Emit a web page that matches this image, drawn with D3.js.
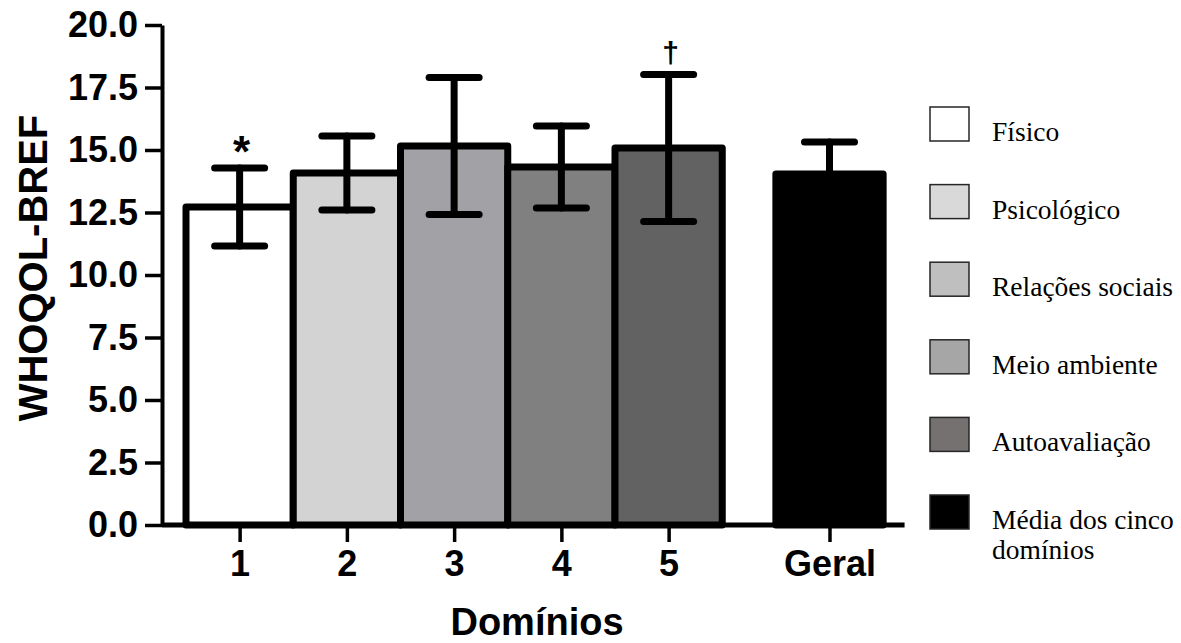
<!DOCTYPE html>
<html>
<head>
<meta charset="utf-8">
<script src="https://cdn.jsdelivr.net/npm/d3@7"></script>
<style>
  body { margin: 0; background: #fff; }
  svg { display: block; }
</style>
</head>
<body>
<svg id="chart"></svg>
<script>
// values (mean +/- SD)
const categories = ['1', '2', '3', '4', '5', 'Geral'];
const means = [12.72, 14.08, 15.16, 14.32, 15.08, 14.04];
const sds = [1.56, 1.48, 2.74, 1.64, 2.94, 1.28];
const marks = ['*', '', '', '', '†', ''];
const yTicks = [0, 2.5, 5, 7.5, 10, 12.5, 15, 17.5, 20];
const legendLabels = [
  ['Físico'],
  ['Psicológico'],
  ['Relações sociais'],
  ['Meio ambiente'],
  ['Autoavaliação'],
  ['Média dos cinco', 'domínios']
];

const barColors = ['#ffffff', '#d3d3d3', '#a2a1a6', '#808080', '#626262', '#000000'];
const legendColors = ['#ffffff', '#d9d9d9', '#bfbfbf', '#a6a6a6', '#767171', '#000000'];

const W = 1181, H = 643;
const svg = d3.select('#chart').attr('width', W).attr('height', H);

const y = d3.scaleLinear().domain([0, 20]).range([525, 25]);

// "Geral" sits half a slot further right than the five domains
const slot = i => (i < 5 ? i : i + 0.5);
const step = 107.25;
const xPos = d3.scaleLinear().domain([-0.5, 6]).range([186, 186 + 6.5 * step]);
const xCat = d3.scaleOrdinal()
  .domain(categories)
  .range(categories.map((c, i) => xPos(slot(i))));

const rows = categories.map((c, i) => ({
  cat: c, mean: means[i], sd: sds[i], mark: marks[i], color: barColors[i], cx: xCat(c)
}));

// bars
svg.append('g').selectAll('rect')
  .data(rows)
  .enter()
  .append('rect')
  .attr('x', d => d.cx - step / 2)
  .attr('y', d => y(d.mean))
  .attr('width', step)
  .attr('height', d => y(0) - y(d.mean))
  .attr('fill', d => d.color)
  .attr('stroke', '#000')
  .attr('stroke-width', 7)
  .attr('stroke-linejoin', 'round');

// error bars
const capHalf = 25;
const err = svg.append('g')
  .attr('stroke', '#000')
  .attr('stroke-width', 7)
  .attr('stroke-linecap', 'round');

err.selectAll('.stem')
  .data(rows)
  .enter()
  .append('line')
  .attr('x1', d => d.cx).attr('x2', d => d.cx)
  .attr('y1', d => y(d.mean - d.sd))
  .attr('y2', d => y(d.mean + d.sd));

err.selectAll('.capTop')
  .data(rows)
  .enter()
  .append('line')
  .attr('x1', d => d.cx - capHalf).attr('x2', d => d.cx + capHalf)
  .attr('y1', d => y(d.mean + d.sd)).attr('y2', d => y(d.mean + d.sd));

err.selectAll('.capBot')
  .data(rows)
  .enter()
  .append('line')
  .attr('x1', d => d.cx - capHalf).attr('x2', d => d.cx + capHalf)
  .attr('y1', d => y(d.mean - d.sd)).attr('y2', d => y(d.mean - d.sd));

// significance marks
svg.append('g').selectAll('text')
  .data(rows.filter(d => d.mark))
  .enter()
  .append('text')
  .attr('x', d => d.cx + 2)
  .attr('y', d => y(d.mean + d.sd) + (d.mark === '*' ? -1 : -12))
  .attr('text-anchor', 'middle')
  .attr('font-family', 'Liberation Sans, Arial, sans-serif')
  .attr('font-weight', 'bold')
  .attr('font-size', d => (d.mark === '*' ? 44 : 30))
  .text(d => d.mark);

// y axis
const yAxis = d3.axisLeft(y)
  .tickValues(yTicks)
  .tickFormat(d3.format('.1f'))
  .tickSize(17)
  .tickPadding(7)
  .tickSizeOuter(0);

const gy = svg.append('g')
  .attr('transform', 'translate(162,0)')
  .call(yAxis)
  .attr('font-family', 'Liberation Sans, Arial, sans-serif')
  .attr('font-size', 36)
  .attr('font-weight', 'bold');
gy.select('.domain').attr('stroke-width', 4);
gy.selectAll('.tick line').attr('stroke-width', 3.5);
gy.selectAll('.tick text').attr('fill', '#000');

// x axis
svg.append('line')
  .attr('x1', 162).attr('x2', xPos(6.2))
  .attr('y1', y(0)).attr('y2', y(0))
  .attr('stroke', '#000')
  .attr('stroke-width', 5);

const xAxis = d3.axisBottom(xCat)
  .tickSize(17)
  .tickPadding(8)
  .tickSizeOuter(0);

const gx = svg.append('g')
  .attr('transform', `translate(0,${y(0)})`)
  .call(xAxis)
  .attr('font-family', 'Liberation Sans, Arial, sans-serif')
  .attr('font-size', 36)
  .attr('font-weight', 'bold');
gx.select('.domain').remove();
gx.selectAll('.tick line').attr('stroke-width', 3.5);
gx.selectAll('.tick text').attr('fill', '#000');

// axis titles
svg.append('text')
  .attr('transform', 'translate(47,268) rotate(-90)')
  .attr('text-anchor', 'middle')
  .attr('font-family', 'Liberation Sans, Arial, sans-serif')
  .attr('font-weight', 'bold')
  .attr('font-size', 40)
  .text('WHOQOL-BREF');

svg.append('text')
  .attr('x', 537)
  .attr('y', 635)
  .attr('text-anchor', 'middle')
  .attr('font-family', 'Liberation Sans, Arial, sans-serif')
  .attr('font-weight', 'bold')
  .attr('font-size', 38)
  .text('Domínios');

// legend
const legend = svg.append('g').attr('transform', 'translate(930,107)');
const items = legend.selectAll('g')
  .data(legendLabels)
  .enter()
  .append('g')
  .attr('transform', (d, i) => `translate(0,${i * 77.6})`);

items.append('rect')
  .attr('width', 39)
  .attr('height', 34)
  .attr('fill', (d, i) => legendColors[i])
  .attr('stroke', '#262626')
  .attr('stroke-width', 1.5);

items.append('text')
  .attr('x', 62)
  .attr('y', 34)
  .attr('font-family', 'Liberation Serif, Times New Roman, serif')
  .attr('font-size', 27.5)
  .selectAll('tspan')
  .data(d => d)
  .enter()
  .append('tspan')
  .attr('x', 62)
  .attr('dy', (d, i) => (i === 0 ? 0 : 30))
  .text(d => d);
</script>
</body>
</html>
